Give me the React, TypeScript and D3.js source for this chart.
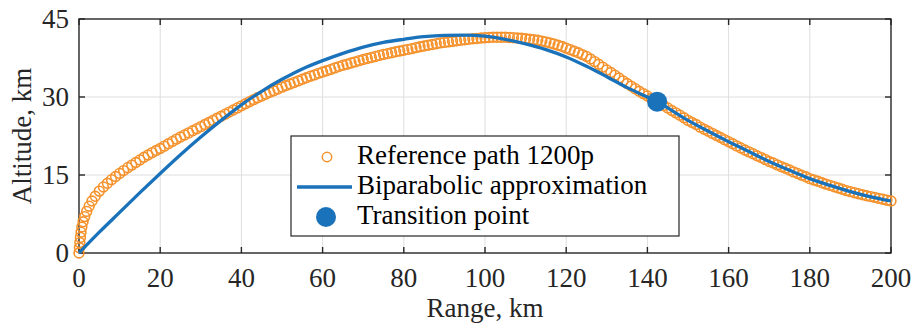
import * as d3 from "d3";

// reference path (orange circles)
const refRange = [
  0, 0.1, 0.2, 0.35, 0.5, 0.7, 1.0, 1.4, 1.9, 2.5, 3.2,
  4, 5, 6, 7, 8, 9, 10, 11, 12, 13, 14, 15, 16, 17, 18, 19, 20,
  21, 22, 23, 24, 25, 26, 27, 28, 29, 30, 31, 32, 33, 34, 35, 36, 37, 38, 39, 40,
  41, 42, 43, 44, 45, 46, 47, 48, 49, 50, 51, 52, 53, 54, 55, 56, 57, 58, 59, 60,
  61, 62, 63, 64, 65, 66, 67, 68, 69, 70, 71, 72, 73, 74, 75, 76, 77, 78, 79, 80,
  81, 82, 83, 84, 85, 86, 87, 88, 89, 90, 91, 92, 93, 94, 95, 96, 97, 98, 99, 100,
  101, 102, 103, 104, 105, 106, 107, 108, 109, 110, 111, 112, 113, 114, 115, 116, 117, 118, 119, 120,
  121, 122, 123, 124, 125, 126, 127, 128, 129, 130, 131, 132, 133, 134, 135, 136, 137, 138, 139, 140,
  141, 142, 143, 144, 145, 146, 147, 148, 149, 150, 151, 152, 153, 154, 155, 156, 157, 158, 159, 160,
  161, 162, 163, 164, 165, 166, 167, 168, 169, 170, 171, 172, 173, 174, 175, 176, 177, 178, 179, 180,
  181, 182, 183, 184, 185, 186, 187, 188, 189, 190, 191, 192, 193, 194, 195, 196, 197, 198, 199, 200,
];
const refAlt = [
  0, 1, 2, 3, 4, 5, 6, 7, 8, 9, 10,
  10.9, 11.9, 12.7, 13.4, 14.1, 14.7, 15.3, 15.85, 16.4, 16.9, 17.4, 17.9, 18.4, 18.85, 19.3, 19.7, 20.1,
  20.55, 21.0, 21.45, 21.9, 22.3, 22.7, 23.1, 23.5, 23.9, 24.3, 24.7, 25.1, 25.5, 25.9, 26.3, 26.7, 27.1, 27.5, 27.9, 28.3,
  28.7, 29.1, 29.5, 29.85, 30.2, 30.55, 30.9, 31.2, 31.55, 31.9, 32.2, 32.5, 32.8, 33.1, 33.4, 33.7, 34.0, 34.25, 34.55, 34.8,
  35.05, 35.3, 35.6, 35.85, 36.1, 36.3, 36.55, 36.75, 37.0, 37.2, 37.4, 37.6, 37.8, 38.0, 38.2, 38.35, 38.5, 38.7, 38.85, 39.0,
  39.15, 39.3, 39.5, 39.65, 39.8, 39.95, 40.1, 40.25, 40.4, 40.5, 40.6, 40.7, 40.8, 40.9, 41.0, 41.1, 41.2, 41.25, 41.35, 41.4,
  41.45, 41.5, 41.5, 41.5, 41.5, 41.45, 41.4, 41.35, 41.3, 41.2, 41.1, 41.0, 40.9, 40.75, 40.6, 40.4, 40.2, 39.95, 39.7, 39.4,
  39.1, 38.8, 38.5, 38.15, 37.8, 37.3, 36.8, 36.3, 35.75, 35.2, 34.7, 34.2, 33.65, 33.1, 32.6, 32.1, 31.6, 31.1, 30.65, 30.2,
  29.7, 29.25, 28.8, 28.35, 27.9, 27.4, 26.95, 26.5, 26.0, 25.5, 25.1, 24.7, 24.2, 23.8, 23.4, 23.0, 22.6, 22.2, 21.8, 21.4,
  21.0, 20.6, 20.2, 19.8, 19.45, 19.1, 18.7, 18.35, 18.0, 17.6, 17.3, 16.95, 16.6, 16.3, 15.95, 15.6, 15.3, 14.95, 14.65, 14.3,
  14.05, 13.8, 13.5, 13.25, 13.0, 12.75, 12.5, 12.25, 12.0, 11.8, 11.6, 11.4, 11.2, 11.0, 10.85, 10.7, 10.5, 10.35, 10.15, 10.0,
];

// biparabolic approximation (blue line)
const approxRange = [0, 5, 10, 15, 20, 25, 30, 35, 40, 45, 50, 55, 60, 65, 70, 75, 80, 85, 90, 95, 100,
  105, 110, 115, 120, 125, 130, 135, 140, 142.4, 145, 150, 155, 160, 165, 170, 175, 180, 185, 190, 195, 200];
const approxAlt = [0, 4.0, 7.8, 11.6, 15.3, 18.9, 22.3, 25.5, 28.5, 31.1, 33.4, 35.4, 37.0, 38.4, 39.6, 40.5, 41.1, 41.6, 41.85, 41.9, 41.7,
  41.1, 40.2, 39.1, 37.7, 35.9, 33.9, 31.8, 30.0, 29.1, 27.9, 25.5, 23.4, 21.4, 19.5, 17.6, 15.9, 14.3, 13.0, 11.8, 10.8, 10.0];

const transitionRange = 142.4;
const transitionAlt = 29.1;

const xTicks = [0, 20, 40, 60, 80, 100, 120, 140, 160, 180, 200];
const yTicks = [0, 15, 30, 45];

const legendLabels = ["Reference path 1200p", "Biparabolic approximation", "Transition point"];

const ORANGE = "#f5922c";
const BLUE = "#1a72ba";
const AXIS = "#262626";
const GRID = "#dedede";
const FONT = "'Liberation Serif', 'Times New Roman', serif";

export default function App() {
  const width = 912, height = 324;
  const left = 79, right = 891, top = 19, bottom = 253;
  const tick = 6;

  const x = d3.scaleLinear([0, 200], [left, right]);
  const y = d3.scaleLinear([0, 45], [bottom, top]);

  const line = d3.line<number>((d, i) => x(approxRange[i]), (d) => y(d)).curve(d3.curveMonotoneX);

  const lx = 291, ly = 136, lw = 388, lh = 100;
  const rowY = [157, 187, 217];

  return (
    <svg width={width} height={height} style={{position: "absolute", left: 0, top: 0, background: "#fff"}}
      fontFamily={FONT} fontSize={27}>
      <rect x={0} y={0} width={width} height={height} fill="#fff" />
      {/* grid */}
      <g stroke={GRID} strokeWidth={1}>
        {xTicks.slice(1, -1).map((t) => <line key={"gx" + t} x1={x(t)} x2={x(t)} y1={top} y2={bottom} />)}
        {yTicks.slice(1, -1).map((t) => <line key={"gy" + t} x1={left} x2={right} y1={y(t)} y2={y(t)} />)}
      </g>
      {/* axes box + ticks */}
      <g stroke={AXIS} strokeWidth={1.4} fill="none">
        <rect x={left} y={top} width={right - left} height={bottom - top} />
        {xTicks.map((t) => (
          <g key={"tx" + t}>
            <line x1={x(t)} x2={x(t)} y1={bottom} y2={bottom - tick} />
            <line x1={x(t)} x2={x(t)} y1={top} y2={top + tick} />
          </g>
        ))}
        {yTicks.map((t) => (
          <g key={"ty" + t}>
            <line x1={left} x2={left + tick} y1={y(t)} y2={y(t)} />
            <line x1={right} x2={right - tick} y1={y(t)} y2={y(t)} />
          </g>
        ))}
      </g>
      <g fill={AXIS}>
        {xTicks.map((t) => (
          <text key={"lx" + t} x={x(t)} y={287} textAnchor="middle">{t}</text>
        ))}
        {yTicks.map((t) => (
          <text key={"ly" + t} x={left - 10} y={y(t)} dy="0.35em" textAnchor="end">{t}</text>
        ))}
        <text x={(left + right) / 2} y={317} textAnchor="middle">Range, km</text>
        <text transform={`translate(31,${(top + bottom) / 2}) rotate(-90)`} textAnchor="middle">Altitude, km</text>
      </g>
      {/* reference path */}
      <g fill="none" stroke={ORANGE} strokeWidth={1.6}>
        {refAlt.map((a, i) => <circle key={i} cx={x(refRange[i])} cy={y(a)} r={4.9} />)}
      </g>
      {/* approximation */}
      <path d={line(approxAlt) ?? ""} fill="none" stroke={BLUE} strokeWidth={3.3} />
      <circle cx={x(transitionRange)} cy={y(transitionAlt)} r={10} fill={BLUE} />
      {/* legend */}
      <g>
        <rect x={lx} y={ly} width={lw} height={lh} fill="#fff" stroke={AXIS} strokeWidth={1.2} />
        <circle cx={327} cy={rowY[0]} r={4.7} fill="none" stroke={ORANGE} strokeWidth={1.5} />
        <line x1={297} x2={352} y1={rowY[1]} y2={rowY[1]} stroke={BLUE} strokeWidth={3.3} />
        <circle cx={326} cy={rowY[2]} r={10} fill={BLUE} />
        {legendLabels.map((s, i) => (
          <text key={s} x={357} y={rowY[i]} dy="0.27em" fill="#000">{s}</text>
        ))}
      </g>
    </svg>
  );
}
